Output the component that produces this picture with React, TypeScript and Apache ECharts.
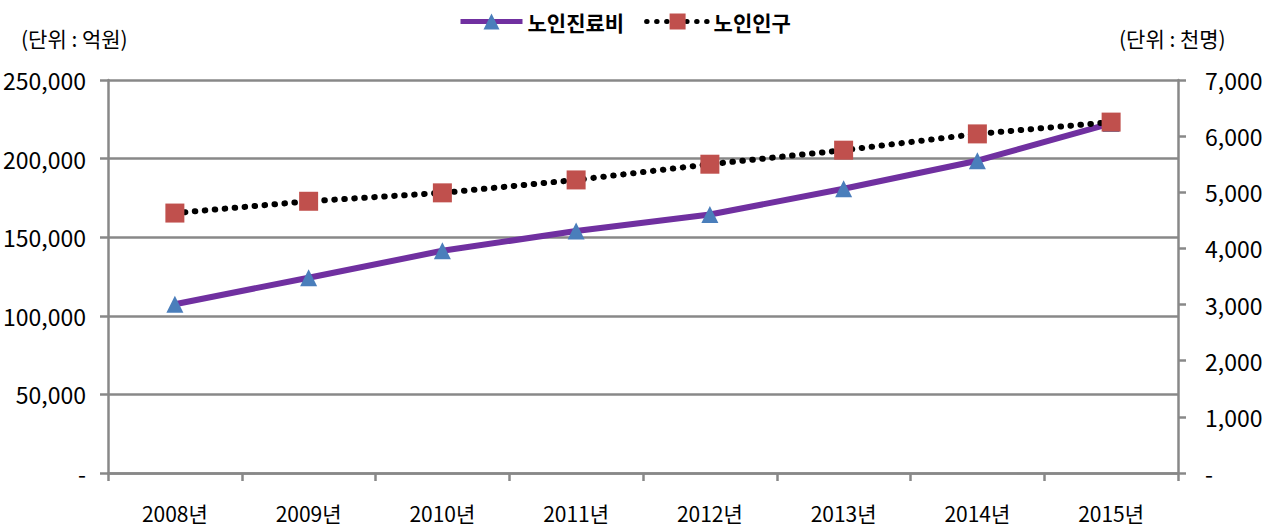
import React, { useEffect, useRef } from "react";
import * as echarts from "echarts";

const categories = ["2008년", "2009년", "2010년", "2011년", "2012년", "2013년", "2014년", "2015년"];
const medicalCost = [107371, 124236, 141350, 153893, 164401, 180852, 198648, 222361];
const elderlyPop = [4630, 4840, 4990, 5220, 5500, 5750, 6040, 6250];
const leftTitle = "(단위 : 억원)";
const rightTitle = "(단위 : 천명)";
const seriesNames = ["노인진료비", "노인인구"];

const NUM_FONT = "'Liberation Sans Narrow', 'Noto Sans CJK KR', sans-serif";
const KR_FONT = "'Noto Sans CJK KR', sans-serif";

export default function App() {
  const ref = useRef<HTMLDivElement>(null);
  useEffect(() => {
    if (!ref.current) return;
    const chart = echarts.init(ref.current, undefined, { renderer: "svg" });
    const fmt = (v: number) => (v === 0 ? "-" : v.toLocaleString("en-US"));
    const axisLine = { show: true, lineStyle: { color: "#888888", width: 2.5 } };
    chart.setOption({
      animation: false,
      backgroundColor: "#ffffff",
      grid: { left: 108, right: 92, top: 80, bottom: 56, containLabel: false },
      legend: {
        top: 6,
        left: 453,
        itemWidth: 62,
        itemHeight: 20,
        itemGap: 20,
        lineStyle: { width: 5 },
        textStyle: { fontFamily: KR_FONT, fontSize: 21, fontWeight: "bold", color: "#000" },
        data: seriesNames,
      },
      graphic: [
        {
          type: "text",
          left: 21,
          top: 27,
          style: { text: leftTitle, fontFamily: KR_FONT, fontSize: 21, fill: "#000" },
        },
        {
          type: "text",
          left: 1119,
          top: 27,
          style: { text: rightTitle, fontFamily: KR_FONT, fontSize: 21, fill: "#000" },
        },
      ],
      xAxis: {
        type: "category",
        data: categories,
        boundaryGap: true,
        axisLine,
        axisTick: { show: true, length: 8, alignWithLabel: false, lineStyle: { color: "#888888", width: 2.5 } },
        axisLabel: { margin: 30, lineHeight: 20, fontFamily: NUM_FONT, fontSize: 21, color: "#000" },
      },
      yAxis: [
        {
          type: "value",
          min: 0,
          max: 250000,
          interval: 50000,
          axisLine,
          axisTick: { show: true, length: 8, lineStyle: { color: "#888888", width: 2.5 } },
          splitLine: { show: true, lineStyle: { color: "#888888", width: 2.5 } },
          axisLabel: { margin: 22, fontFamily: NUM_FONT, fontSize: 23, color: "#000", formatter: fmt },
        },
        {
          type: "value",
          min: 0,
          max: 7000,
          interval: 1000,
          position: "right",
          axisLine,
          axisTick: { show: true, length: 8, lineStyle: { color: "#888888", width: 2.5 } },
          splitLine: { show: false },
          axisLabel: { margin: 27, fontFamily: NUM_FONT, fontSize: 23, color: "#000", formatter: fmt },
        },
      ],
      series: [
        {
          name: seriesNames[0],
          type: "line",
          yAxisIndex: 0,
          data: medicalCost,
          symbol: "triangle",
          symbolSize: 17,
          lineStyle: { color: "#7030A0", width: 6 },
          itemStyle: { color: "#4A7EBB" },
          z: 2,
        },
        {
          name: seriesNames[1],
          type: "line",
          yAxisIndex: 1,
          data: elderlyPop,
          symbol: "rect",
          symbolSize: 19,
          lineStyle: { color: "#000000", width: 6, type: [0.5, 9.5], cap: "round" },
          itemStyle: { color: "#C0504D", borderRadius: 2 },
          z: 3,
        },
      ],
    });
    return () => chart.dispose();
  }, []);
  return (
    <div
      ref={ref}
      style={{ position: "absolute", left: 0, top: 0, width: 1270, height: 529 }}
    />
  );
}
